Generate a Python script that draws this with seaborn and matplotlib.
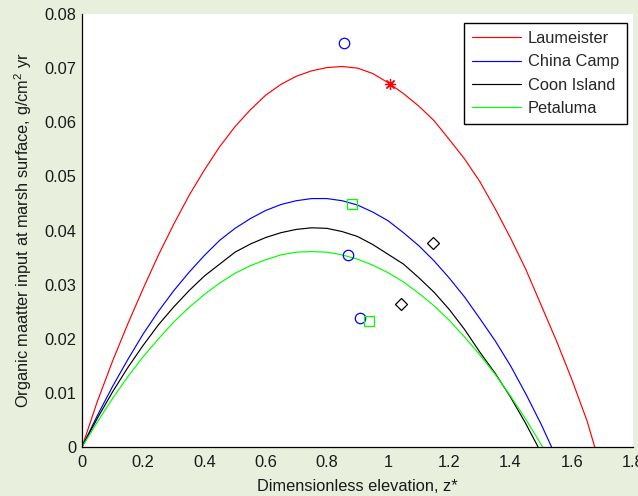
import matplotlib
matplotlib.use("Agg")
import matplotlib.pyplot as plt
import pandas as pd
import seaborn as sns

# ---- data -------------------------------------------------------------
sites = ["Laumeister", "China Camp", "Coon Island", "Petaluma"]
site_colors = ["#ff0000", "#0000ff", "#000000", "#00ff00"]

z_common = [0.0, 0.05, 0.1, 0.15, 0.2, 0.25, 0.3, 0.35, 0.4, 0.45,
            0.5, 0.55, 0.6, 0.65, 0.7, 0.75, 0.8, 0.85, 0.9, 0.95,
            1.0, 1.05, 1.1, 1.15, 1.2, 1.25, 1.3, 1.35, 1.4, 1.45]

laumeister_z = z_common + [1.5, 1.55, 1.6, 1.65, 1.675]
laumeister_om = [0.0, 0.0084, 0.0159, 0.0228, 0.0293, 0.0355, 0.0412, 0.0465, 0.0512, 0.0555,
                 0.0592, 0.0623, 0.0650, 0.0670, 0.0685, 0.0695, 0.0701, 0.0703, 0.0700, 0.0690,
                 0.0673, 0.0653, 0.0630, 0.0603, 0.0568, 0.0532, 0.0490, 0.0440, 0.0386, 0.0328,
                 0.0262, 0.0196, 0.0125, 0.0048, 0.0]

chinacamp_z = z_common + [1.5, 1.534]
chinacamp_om = [0.0, 0.0058, 0.0112, 0.0162, 0.0209, 0.0251, 0.0289, 0.0323, 0.0354, 0.0382,
                0.0404, 0.0422, 0.0437, 0.0448, 0.0455, 0.0459, 0.0459, 0.0455, 0.0447, 0.0434,
                0.0418, 0.0396, 0.0372, 0.0344, 0.0312, 0.0277, 0.0237, 0.0196, 0.0150, 0.0098,
                0.0042, 0.0]

coonisland_z = z_common + [1.49]
coonisland_om = [0.0, 0.0053, 0.0102, 0.0147, 0.0188, 0.0226, 0.0259, 0.0289, 0.0316, 0.0338,
                 0.0360, 0.0375, 0.0387, 0.0396, 0.0402, 0.0405, 0.0404, 0.0398, 0.0389, 0.0374,
                 0.0356, 0.0338, 0.0313, 0.0286, 0.0254, 0.0217, 0.0175, 0.0136, 0.0092, 0.0043,
                 0.0]

petaluma_z = z_common + [1.505]
petaluma_om = [0.0, 0.0046, 0.0090, 0.0130, 0.0167, 0.0200, 0.0231, 0.0258, 0.0282, 0.0303,
               0.0321, 0.0335, 0.0346, 0.0355, 0.0360, 0.0361, 0.0360, 0.0355, 0.0347, 0.0336,
               0.0322, 0.0305, 0.0284, 0.0261, 0.0234, 0.0203, 0.0170, 0.0134, 0.0094, 0.0051,
               0.0]

# field observations
obs_site = ["Laumeister", "China Camp", "China Camp", "China Camp",
            "Coon Island", "Coon Island", "Petaluma", "Petaluma"]
obs_z = [1.006, 0.856, 0.870, 0.909, 1.148, 1.042, 0.881, 0.939]
obs_om = [0.0671, 0.0747, 0.0355, 0.0238, 0.0376, 0.0264, 0.0449, 0.0232]
site_markers = {"Laumeister": (8, 2, 0), "China Camp": "o",
                "Coon Island": "D", "Petaluma": "s"}
site_marker_sizes = {"Laumeister": 8, "China Camp": 7.5,
                     "Coon Island": 6, "Petaluma": 7}

xtick_vals = [0, 0.2, 0.4, 0.6, 0.8, 1.0, 1.2, 1.4, 1.6, 1.8]
xtick_labels = ["0", "0.2", "0.4", "0.6", "0.8", "1", "1.2", "1.4", "1.6", "1.8"]
ytick_vals = [0, 0.01, 0.02, 0.03, 0.04, 0.05, 0.06, 0.07, 0.08]
ytick_labels = ["0", "0.01", "0.02", "0.03", "0.04", "0.05", "0.06", "0.07", "0.08"]

# ---- tables -----------------------------------------------------------
curves = pd.concat([
    pd.DataFrame({"site": name, "z": zs, "om": om})
    for name, zs, om in [("Laumeister", laumeister_z, laumeister_om),
                         ("China Camp", chinacamp_z, chinacamp_om),
                         ("Coon Island", coonisland_z, coonisland_om),
                         ("Petaluma", petaluma_z, petaluma_om)]
], ignore_index=True)
obs = pd.DataFrame({"site": obs_site, "z": obs_z, "om": obs_om})
palette = dict(zip(sites, site_colors))

# ---- style ------------------------------------------------------------
sns.set_theme(style="white")
bg = "#e8efdc"
plt.rcParams["font.family"] = ["Liberation Sans", "DejaVu Sans"]
plt.rcParams["mathtext.fontset"] = "custom"
plt.rcParams["mathtext.rm"] = "Liberation Sans"
plt.rcParams["mathtext.it"] = "Liberation Sans:italic"
fs = 11.8

fig = plt.figure(figsize=(6.38, 4.96), dpi=100, facecolor=bg)
ax = fig.add_axes([82 / 638, 1 - 447 / 496, 551 / 638, 433 / 496])
ax.set_facecolor("white")

sns.lineplot(data=curves, x="z", y="om", hue="site", hue_order=sites,
             palette=palette, sort=False, estimator=None, linewidth=0.85,
             ax=ax, legend=True)

for name in sites:
    sub = obs[obs["site"] == name]
    ax.plot(sub["z"], sub["om"], linestyle="none",
            marker=site_markers[name], markersize=site_marker_sizes[name],
            markerfacecolor="none", markeredgecolor=palette[name],
            markeredgewidth=0.9, label="_nolegend_", clip_on=False)

ax.set_xlim(0, 1.8)
ax.set_ylim(0, 0.08)
ax.set_xticks(xtick_vals)
ax.set_xticklabels(xtick_labels)
ax.set_yticks(ytick_vals)
ax.set_yticklabels(ytick_labels)
ax.tick_params(axis="both", direction="in", length=5, width=0.8,
               colors="black", labelsize=fs, labelcolor="#1a1a1a")
ax.tick_params(axis="x", pad=6)
ax.tick_params(axis="y", pad=4)
for side in ["top", "right"]:
    ax.spines[side].set_visible(False)
for side in ["left", "bottom"]:
    ax.spines[side].set_color("black")
    ax.spines[side].set_linewidth(0.9)

ax.set_xlabel("Dimensionless elevation, z*", fontsize=fs, color="#1a1a1a")
ax.set_ylabel(r"Organic maatter input at marsh surface, g/cm$^\mathrm{2}$ yr",
              fontsize=fs, color="#1a1a1a")
ax.xaxis.set_label_coords(0.5, -0.074)
ax.yaxis.set_label_coords(-0.087, 0.5)

handles, labels = ax.get_legend_handles_labels()
leg = ax.legend(handles, labels, loc="upper right",
                bbox_to_anchor=(627 / 638, 1 - 23 / 496),
                bbox_transform=fig.transFigure, borderaxespad=0,
                fontsize=fs, frameon=True, fancybox=False, shadow=False,
                borderpad=0.5, handlelength=3.0, handletextpad=0.4,
                labelspacing=0.5)
leg.get_frame().set_edgecolor("black")
leg.get_frame().set_linewidth(1.0)
leg.get_frame().set_facecolor("white")
leg.get_frame().set_alpha(1)

fig.savefig("out.png", dpi=100, facecolor=bg)
